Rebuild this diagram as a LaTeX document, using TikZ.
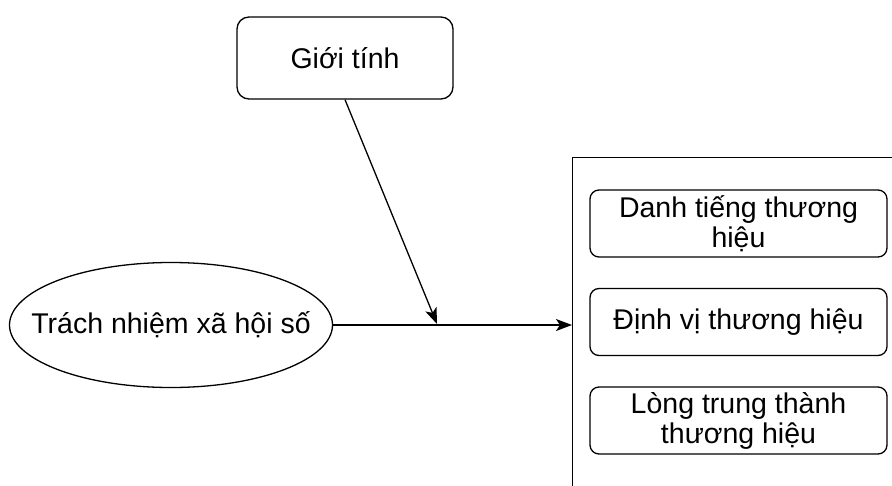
\documentclass[tikz,border=0pt]{standalone}
\usepackage{fontspec}
\setmainfont{Liberation Sans}
\usetikzlibrary{shapes.geometric,arrows.meta}
\begin{document}
\begin{tikzpicture}[x=1pt,y=-1pt,
  every node/.style={font=\fontsize{28.5}{30}\selectfont},
  rbox/.style={draw, line width=1.3pt, rounded corners=9pt, align=center, inner sep=0pt, minimum width=297pt, minimum height=67pt},
  conn/.style={line width=1.3pt, -{Stealth[length=16pt,width=12pt,inset=4pt]}}]
\fill[white] (0,0) rectangle (892,485);
\clip (0,0) rectangle (892,485);
\node[draw, line width=1.3pt, rounded corners=12pt, minimum width=216pt, minimum height=82pt] (gt) at (345,58) {Giới tính};
\node[draw, ellipse, line width=1.3pt, minimum width=323pt, minimum height=125pt, inner xsep=-35pt, inner ysep=0pt] (tn) at (171,325) {Trách nhiệm xã hội số};
\node[draw, line width=1.3pt, minimum width=360pt, minimum height=360pt, anchor=north west] (grp) at (572,157) {};
\node[rbox] (dt) at (738.5,223.5) {Danh tiếng thương\\hiệu};
\node[rbox] (dv) at (738.5,322) {Định vị thương hiệu};
\node[rbox] (lt) at (738.5,420.5) {Lòng trung thành\\thương hiệu};
\coordinate (m) at (437,324);
\draw[conn] (tn.east) -- (tn.east -| grp.west);
\draw[conn] (gt.south) -- (m);
\end{tikzpicture}
\end{document}
